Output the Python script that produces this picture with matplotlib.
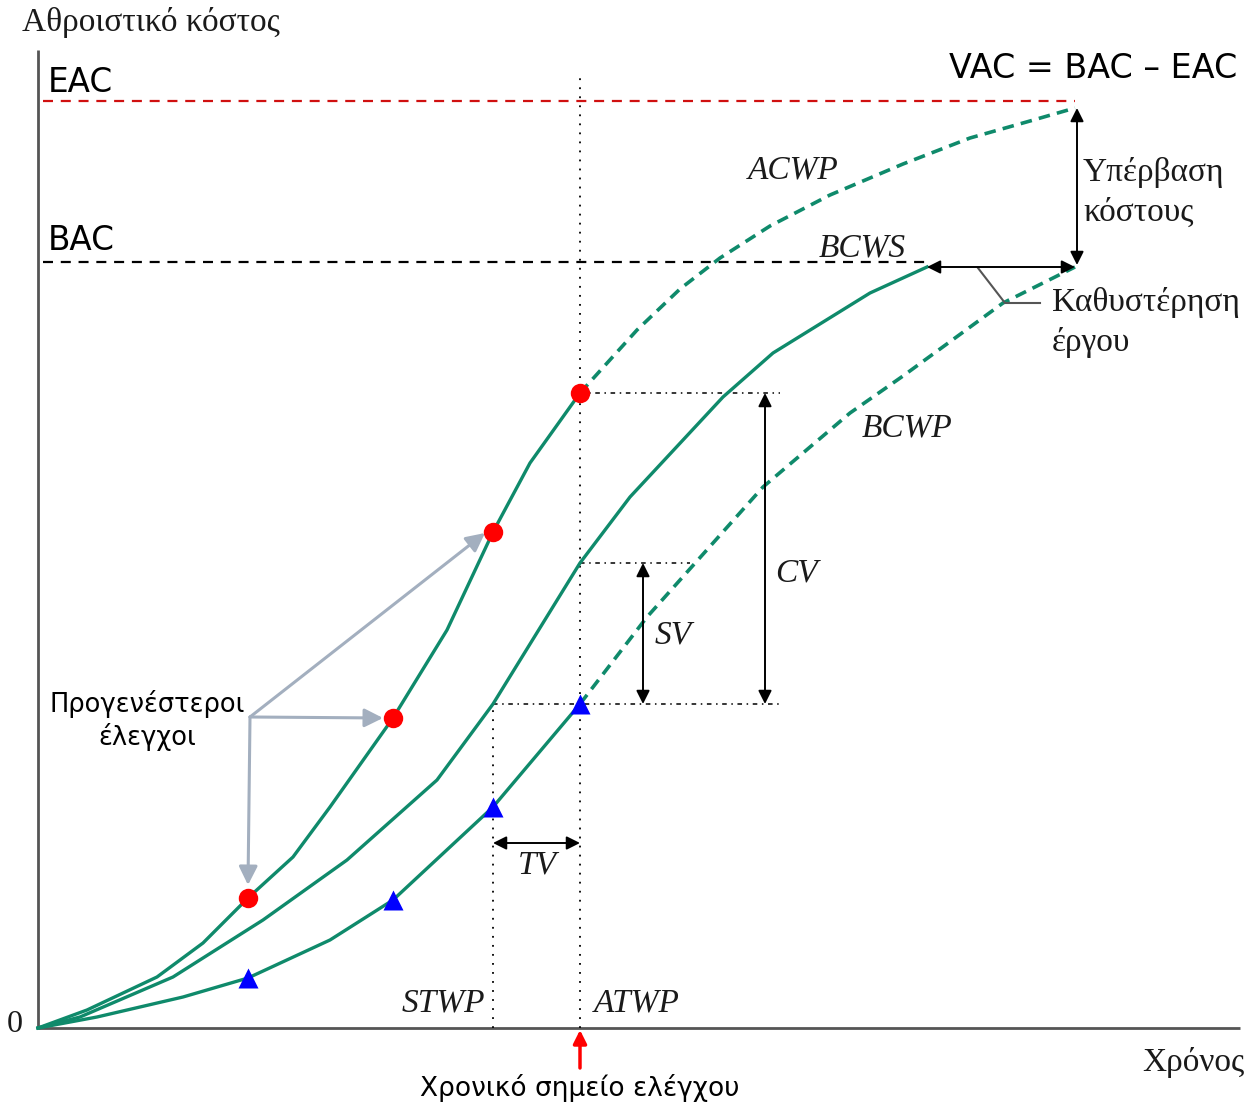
"""
Καμπύλες αρχικής αξίας (Earned Value): ACWP, BCWS, BCWP
"""

import matplotlib
matplotlib.use("Agg")
import matplotlib.pyplot as plt

# Καμπύλες (χρόνος, αθροιστικό κόστος) σε αυθαίρετες μονάδες
acwp_t = [0, 49, 119, 165, 210, 255, 292, 355, 409, 455, 492, 542]
acwp_c = [0, 18, 51, 85, 130, 171, 221, 310, 398, 496, 565, 635]
acwp_fc_t = [542, 599, 642, 682, 732, 792, 865, 932, 992, 1037]
acwp_fc_c = [635, 698, 739, 770, 802, 833, 864, 890, 907, 920]

bcws_t = [0, 42, 135, 225, 309, 399, 455, 542, 592, 685, 735, 832, 889]
bcws_c = [0, 11, 51, 108, 168, 248, 324, 465, 531, 631, 675, 735, 761]

bcwp_t = [0, 59, 145, 210, 292, 355, 455, 542]
bcwp_c = [0, 11, 31, 50, 88, 128, 221, 324]
bcwp_fc_t = [542, 609, 725, 812, 865, 965, 1037]
bcwp_fc_c = [324, 411, 541, 615, 652, 725, 761]

# σημεία ελέγχου
check_t = [210, 355, 455, 542]
acwp_checks = [130, 310, 496, 635]
bcwp_checks = [50, 128, 221, 324]

EAC = 927
BAC = 766
STWP = 455
ATWP = 542
BCWS_NOW = 465
END_PLAN = 889
END_FC = 1037

GREEN = '#0f8a6b'
TXT = '#1a1a1a'
SERIF = ['Liberation Serif', 'DejaVu Serif']
SANS = ['DejaVu Sans']

fig = plt.figure(figsize=(12.49, 11.04), dpi=100)
ax = fig.add_axes([0, 0, 1, 1])
ax.set_xlim(-38, 1211)
ax.set_ylim(-76, 1028)
ax.axis('off')

# άξονες
ax.plot([0, 0], [0, 978], color='#555555', lw=2, solid_capstyle='butt')
ax.plot([0, 1202], [0, 0], color='#555555', lw=2, solid_capstyle='butt')

# EAC / BAC
ax.plot([5, END_FC], [EAC, EAC], color='#d01010', lw=1.6, dashes=(4.5, 3.5))
ax.plot([5, END_PLAN], [BAC, BAC], color='black', lw=1.6, dashes=(4.5, 3.5))

# βοηθητικές κατακόρυφες
ax.plot([ATWP, ATWP], [0, 953], color='black', lw=1.3, linestyle=(0, (1, 4)))
ax.plot([STWP, STWP], [0, BCWS_NOW - 141], color='black', lw=1.3, linestyle=(0, (1, 4)))

# βοηθητικές οριζόντιες
dashdot = (0, (3, 3, 1, 3))
ax.plot([ATWP, 742], [acwp_checks[-1]] * 2, color='black', lw=1.1, linestyle=dashdot)
ax.plot([ATWP, 652], [BCWS_NOW] * 2, color='black', lw=1.1, linestyle=dashdot)
ax.plot([STWP, 742], [bcwp_checks[-1]] * 2, color='black', lw=1.1, linestyle=dashdot)

# καμπύλες
ax.plot(acwp_t, acwp_c, color=GREEN, lw=2.4)
ax.plot(acwp_fc_t, acwp_fc_c, color=GREEN, lw=2.6, dashes=(3.2, 2))
ax.plot(bcws_t, bcws_c, color=GREEN, lw=2.4)
ax.plot(bcwp_t, bcwp_c, color=GREEN, lw=2.4)
ax.plot(bcwp_fc_t, bcwp_fc_c, color=GREEN, lw=2.6, dashes=(3.2, 2))

ax.plot(check_t, acwp_checks, 'o', color='#ff0000', ms=14, mec='none', zorder=5)
ax.plot(check_t, bcwp_checks, '^', color='#0000ff', ms=14, mec='none', zorder=5)

# διπλά βέλη
def dbl(x0, y0, x1, y1, color='black'):
    ax.annotate('', xy=(x1, y1), xytext=(x0, y0),
                arrowprops=dict(arrowstyle='<|-|>', color=color, lw=1.4,
                                mutation_scale=20, shrinkA=0, shrinkB=0))

dbl(727, acwp_checks[-1], 727, bcwp_checks[-1])
dbl(605, BCWS_NOW, 605, bcwp_checks[-1])
dbl(STWP, 185, ATWP, 185)
dbl(1039, acwp_fc_c[-1], 1039, BAC - 3)
dbl(END_PLAN, 761, END_FC, 761)

# οδηγός "Καθυστέρηση έργου"
ax.plot([940, 967, 1002], [760, 725, 725], color='#555555', lw=1.5)

# γκρι βέλη προς προγενέστερους ελέγχους
gray = '#a3afbf'
for tx, cy in [(447, 495), (345, 310), (210, 143)]:
    ax.annotate('', xy=(tx, cy), xytext=(212, 311),
                arrowprops=dict(arrowstyle='-|>', color=gray, lw=2.2,
                                mutation_scale=28, shrinkA=0, shrinkB=0))

# κόκκινο βέλος χρονικού σημείου
ax.annotate('', xy=(ATWP, -2), xytext=(ATWP, -40),
            arrowprops=dict(arrowstyle='-|>', color='#ff0000', lw=2.5,
                            mutation_scale=20, shrinkA=0, shrinkB=0))

# κείμενα
ax.text(-16, 1006, 'Αθροιστικό κόστος', family=SERIF, fontsize=24, color=TXT,
        ha='left', va='center')
ax.text(-23, 3, '0', family=SERIF, fontsize=23, color=TXT, ha='center', va='center')
ax.text(1207, -34, 'Χρόνος', family=SERIF, fontsize=24, color=TXT, ha='right', va='center')

ax.text(10, 945, 'EAC', family=SANS, fontsize=23.5, color='black', ha='left', va='center')
ax.text(10, 788, 'BAC', family=SANS, fontsize=23.5, color='black', ha='left', va='center')
ax.text(1199, 960, 'VAC = BAC – EAC', family=SANS, fontsize=24, color='black',
        ha='right', va='center')

for s, x, y, ha in [('ACWP', 755, 858, 'center'), ('BCWS', 824, 780, 'center'),
                    ('BCWP', 869, 600, 'center'), ('CV', 737, 455, 'left'),
                    ('SV', 617, 393, 'left'), ('TV', 499, 163, 'center'),
                    ('STWP', 447, 25, 'right'), ('ATWP', 556, 25, 'left')]:
    ax.text(x, y, s, family=SERIF, style='italic', fontsize=24, color=TXT,
            ha=ha, va='center')

ax.text(1045, 855, 'Υπέρβαση', family=SERIF, fontsize=24, color=TXT, ha='left', va='center')
ax.text(1045, 815, 'κόστους', family=SERIF, fontsize=24, color=TXT, ha='left', va='center')
ax.text(1014, 725, 'Καθυστέρηση', family=SERIF, fontsize=24, color=TXT, ha='left', va='center')
ax.text(1014, 685, 'έργου', family=SERIF, fontsize=24, color=TXT, ha='left', va='center')

ax.text(109, 324, 'Προγενέστεροι', family=SANS, fontsize=18.5, color='black',
        ha='center', va='center')
ax.text(109, 291, 'έλεγχοι', family=SANS, fontsize=18.5, color='black',
        ha='center', va='center')
ax.text(ATWP, -60, 'Χρονικό σημείο ελέγχου', family=SANS, fontsize=19, color='black',
        ha='center', va='center')

fig.savefig('out.png', dpi=100)
